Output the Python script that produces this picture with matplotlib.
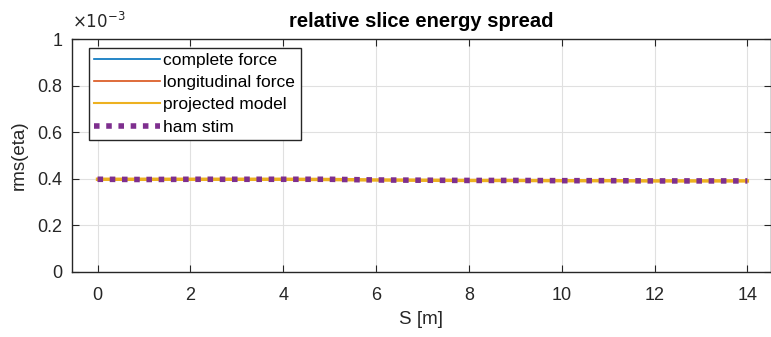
import matplotlib.pyplot as plt
import matplotlib.ticker as mticker

plt.rcParams['font.family'] = ['Liberation Sans', 'DejaVu Sans']

# S position [m]
s = [0, 1, 2, 3, 4, 5, 6, 7, 8, 9, 10, 11, 12, 13, 14]
# rms(eta) for each model
complete_force = [0.398e-3, 0.398e-3, 0.398e-3, 0.398e-3, 0.398e-3, 0.397e-3, 0.395e-3,
                  0.394e-3, 0.393e-3, 0.393e-3, 0.392e-3, 0.392e-3, 0.391e-3, 0.391e-3, 0.391e-3]
longitudinal_force = [0.398e-3, 0.398e-3, 0.398e-3, 0.398e-3, 0.398e-3, 0.397e-3, 0.395e-3,
                      0.394e-3, 0.393e-3, 0.393e-3, 0.392e-3, 0.392e-3, 0.391e-3, 0.391e-3, 0.391e-3]
projected_model = [0.398e-3, 0.398e-3, 0.398e-3, 0.398e-3, 0.398e-3, 0.397e-3, 0.395e-3,
                   0.394e-3, 0.393e-3, 0.393e-3, 0.392e-3, 0.392e-3, 0.391e-3, 0.391e-3, 0.391e-3]
ham_stim = [0.398e-3, 0.397e-3, 0.398e-3, 0.398e-3, 0.398e-3, 0.398e-3, 0.395e-3,
            0.394e-3, 0.393e-3, 0.393e-3, 0.392e-3, 0.392e-3, 0.391e-3, 0.391e-3, 0.391e-3]

fig = plt.figure(figsize=(7.71, 3.37), dpi=100)
ax = fig.add_axes([0.0934, 0.193, 0.906, 0.691])

ax.plot(s, complete_force, color='#0072BD', lw=1.2, label='complete force')
ax.plot(s, longitudinal_force, color='#D95319', lw=1.2, label='longitudinal force')
ax.plot(s, projected_model, color='#EDB120', lw=2.5, label='projected model')
ax.plot(s, ham_stim, color='#7E2F8E', lw=4, ls=(0, (1, 1.2)), label='ham stim')

ax.set_xlim(-0.55, 14.5)
ax.set_ylim(0, 1e-3)
ax.set_xticks([0, 2, 4, 6, 8, 10, 12, 14])
ax.set_yticks([0, 0.2e-3, 0.4e-3, 0.6e-3, 0.8e-3, 1e-3])
ax.yaxis.set_major_formatter(mticker.FuncFormatter(lambda v, p: f"{v * 1e3:g}"))
ax.text(0.0, 1.035, r'$\times 10^{-3}$', transform=ax.transAxes, fontsize=12,
        color='#262626', ha='left', va='bottom')

ax.grid(True, color='#e0e0e0', lw=0.8)
ax.set_axisbelow(True)
ax.tick_params(direction='in', top=True, right=True, labelsize=13, colors='#262626', length=5)
ax.tick_params(axis='x', pad=11)
ax.tick_params(axis='y', pad=7)
for sp in ax.spines.values():
    sp.set_color('#262626')
    sp.set_linewidth(1.0)

ax.set_title('relative slice energy spread', fontsize=14.5, fontweight='bold', pad=9)
ax.set_xlabel('S [m]', fontsize=13.5, color='#262626', labelpad=5)
ax.set_ylabel('rms(eta)', fontsize=13.5, color='#262626', labelpad=7)

leg = ax.legend(loc='upper left', bbox_to_anchor=(0.024, 0.962), borderaxespad=0,
                fontsize=12.5, fancybox=False, framealpha=1,
                edgecolor='#262626', handlelength=3.8, handletextpad=0.2,
                borderpad=0.3, labelspacing=0.4)
leg.get_frame().set_linewidth(1.0)
leg.get_lines()[2].set_linewidth(1.5)

fig.savefig('out.png', dpi=100)
